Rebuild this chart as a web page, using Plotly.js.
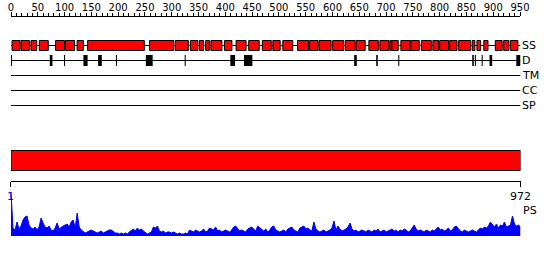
<!DOCTYPE html>
<html><head><meta charset="utf-8">
<script src="https://cdn.plot.ly/plotly-3.0.1.min.js"></script>
<style>html,body{margin:0;padding:0;background:#fff}</style>
</head><body><div id="chart" style="width:550px;height:260px"></div>
<script>
// ---- data ----
const seqLength = 972;
const rulerTicks = [0,50,100,150,200,250,300,350,400,450,500,550,600,650,700,750,800,850,900,950];
const trackNames = ['SS','D','TM','CC','SP'];
const ssStart = [3,20,39,55,86,105,127,147,265,314,343,360,372,382,408,430,454,480,500,519,547,570,588,614,638,659,683,704,723,727,744,763,783,805,818,837,854,880,889,902,924,940,953];
const ssEnd   = [18,36,50,72,103,122,139,255,311,339,357,368,379,403,422,449,474,497,514,538,568,586,611,635,657,676,701,721,726,739,762,779,802,816,835,851,877,885,896,910,937,950,967];
const disStart = [1,75,102,139,167,201,258,332,419,445,655,697,739,880,885,898,913,964];
const disEnd   = [3,80,104,147,174,203,271,334,428,461,660,700,741,883,887,900,918,972];
const domainStart = [1];
const domainEnd = [972];
const psTickVals = [1,972];
const psTickLabels = ['1','972'];
const psValues = [
 44,8,6,14,7, 10,16,19,20,11, 8,7,9,6,9, 18,13,9,8,10, 6,5,8,13,7,
 9,10,11,12,9, 14,16,8,23,9, 6,4,3,4,5, 6,5,4,3,4, 5,3,4,5,6,
 6,4,3,3,2, 3,2,3,2,4, 6,7,5,8,6, 7,5,3,2,3, 4,9,8,10,5,
 4,5,3,4,4, 3,4,3,2,3, 2,2,3,2,6, 5,4,6,5,4, 5,7,4,5,8,
 7,6,9,5,6, 4,5,6,5,4, 6,9,10,7,5, 6,5,4,7,8, 9,7,5,10,8,
 6,5,7,4,6, 9,10,6,5,4, 5,6,4,7,8, 9,6,5,4,8, 9,10,7,8,6,
 5,14,7,5,4, 5,6,4,5,6, 8,15,6,10,7, 5,6,7,9,13, 7,5,6,4,5,
 6,5,4,6,5, 4,6,5,7,4, 5,6,4,5,6, 7,5,6,4,6, 5,7,6,4,5,
 8,11,7,5,6, 5,4,6,5,4, 6,5,7,9,6, 7,5,6,8,5, 6,9,10,7,5,
 4,6,5,4,5, 6,5,4,6,8, 7,9,8,10,14, 11,9,12,8,11, 10,14,9,10,11,
 20,12,10,11,9
];

// ---- layout helpers (pixel geometry) ----
const W = 550, H = 260;
const xL = 11, xR = 520.5;
const trackY = {SS:45.5, D:60.5, TM:75.5, CC:90.5, SP:105.5};
const font = 'DejaVu Sans, Verdana, sans-serif';

const shapes = [];
trackNames.forEach(n => {
  shapes.push({type:'line', xref:'x', yref:'y', x0:1, x1:seqLength, y0:trackY[n], y1:trackY[n],
    line:{color:'#000', width:1}});
});
ssStart.forEach((s,i) => {
  shapes.push({type:'rect', xref:'x', yref:'y', x0:s, x1:ssEnd[i], y0:40.5, y1:50.5,
    fillcolor:'#ff0000', line:{color:'#000', width:1}});
});
disStart.forEach((s,i) => {
  shapes.push({type:'rect', xref:'x', yref:'y', x0:s, x1:disEnd[i], y0:55, y1:66,
    fillcolor:'#000', line:{width:0}});
});
domainStart.forEach((s,i) => {
  shapes.push({type:'rect', xref:'x', yref:'y', x0:s, x1:domainEnd[i], y0:150.5, y1:170.5,
    fillcolor:'#ff0000', line:{color:'#000', width:1}});
});

const annotations = trackNames.map(n => ({
  text:n, xref:'paper', yref:'y', x:(xR+0.5)/W, y:trackY[n], xanchor:'left', yanchor:'middle',
  showarrow:false, font:{family:font, size:11, color:'#000'}, borderpad:0
}));
annotations.push({text:'PS', xref:'paper', yref:'y', x:521.5/W, y:210.5, xanchor:'left', yanchor:'middle',
  showarrow:false, font:{family:font, size:11, color:'#000'}, borderpad:0});

const traces = [
  {type:'scatter', x:[1], y:[null], xaxis:'x', yaxis:'y', hoverinfo:'skip', showlegend:false},
  {type:'scatter', x:[0], y:[null], xaxis:'x2', yaxis:'y', hoverinfo:'skip', showlegend:false},
  {type:'scatter', x:[1], y:[null], xaxis:'x4', yaxis:'y', hoverinfo:'skip', showlegend:false},
  {type:'scatter', y:psValues, xaxis:'x3', yaxis:'y2', mode:'lines', fill:'tozeroy',
    fillcolor:'#0000ff', line:{color:'#0000ff', width:1}, hoverinfo:'skip', showlegend:false}
];

const layout = {
  width:W, height:H, margin:{l:0,r:0,t:0,b:0}, paper_bgcolor:'#fff', plot_bgcolor:'rgba(0,0,0,0)',
  showlegend:false, font:{family:font},
  xaxis:{range:[1,seqLength], domain:[xL/W, xR/W], visible:false, fixedrange:true},
  yaxis:{range:[H,0], domain:[0,1], visible:false, fixedrange:true},
  xaxis2:{range:[0,950], domain:[xL/W, 520/W], anchor:'free', position:1-16/H, side:'top',
    showline:true, linecolor:'#000', linewidth:1, showgrid:false, zeroline:false,
    tickmode:'array', tickvals:rulerTicks, ticktext:rulerTicks.map(String),
    ticks:'outside', ticklen:4, tickwidth:1, tickcolor:'#000',
    ticklabelstandoff:-3,
    minor:{tick0:0, dtick:10, ticks:'outside', ticklen:3, tickwidth:1, tickcolor:'#000', showgrid:false},
    tickfont:{family:font, size:10, color:'#000'}, fixedrange:true},
  xaxis3:{range:[0, psValues.length-1], domain:[xL/W, xR/W], anchor:'y2', visible:false, fixedrange:true},
  yaxis2:{range:[0,44], domain:[24/H, (24+44)/H], anchor:'x3', visible:false, fixedrange:true},
  xaxis4:{range:[1,seqLength], domain:[(xL-0.5)/W, xR/W], anchor:'free', position:1-180.5/H, side:'bottom',
    showline:true, linecolor:'#000', linewidth:1, showgrid:false, zeroline:false,
    tickmode:'array', tickvals:psTickVals,
    ticktext:psTickLabels.map((t,i)=> i===0 ? '<span style="color:#0000ff">'+t+'</span>' : t),
    ticks:'outside', ticklen:5, tickwidth:1, tickcolor:'#000',
    tickfont:{family:font, size:11, color:'#000'}, fixedrange:true},
  shapes:shapes, annotations:annotations
};

Plotly.newPlot('chart', traces, layout, {staticPlot:true, displayModeBar:false});
</script></body></html>
